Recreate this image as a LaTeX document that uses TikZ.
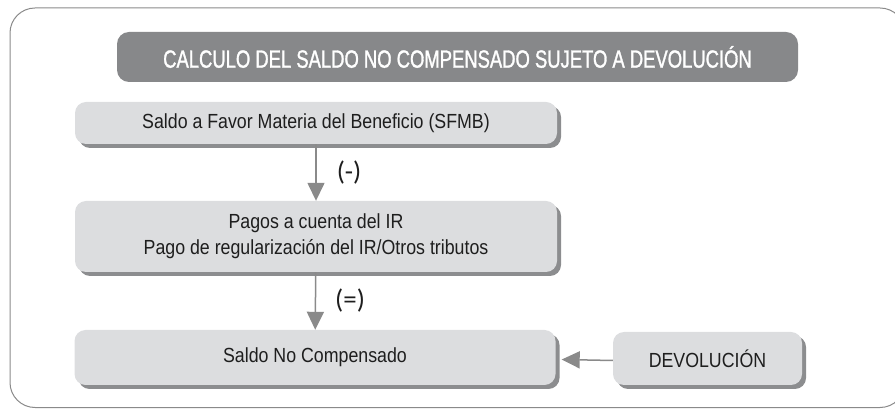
\documentclass[tikz,border=0pt]{standalone}
\usepackage{fontspec}
\setmainfont{Liberation Sans}[FakeStretch=0.87]
\newfontfamily\headfont{Liberation Sans}[FakeStretch=0.74,FakeBold=1.2]
\newfontfamily\signfont{Carlito}
\usetikzlibrary{arrows.meta}
\usetikzlibrary{shadows}
\definecolor{boxgray}{HTML}{DCDDDF}
\definecolor{titlegray}{HTML}{87888A}
\definecolor{shadegray}{HTML}{8C8D8F}
\definecolor{linegray}{HTML}{8A8A8A}
\definecolor{textdark}{HTML}{1E1E1E}

\begin{document}
\begin{tikzpicture}[>={Triangle[width=17bp,length=18bp]},line join=bevel,
  box/.style={rounded corners=11bp,fill=boxgray,draw=none,text=textdark,align=center,
    inner sep=0pt,font=\fontsize{20.5}{26}\selectfont,
    general shadow={fill=shadegray,shadow xshift=4bp,shadow yshift=-4bp}},
  flow/.style={draw=linegray,line width=1.5bp,->,color=linegray},
  sign/.style={text=textdark,font=\signfont\fontsize{27}{30}\selectfont,inner sep=0pt},
]
%%
\useasboundingbox (0bp,0bp) rectangle (895bp,409bp);
\draw [linegray,line width=1bp,rounded corners=25bp] (10bp,1.5bp) rectangle (905bp,401bp);
%
\node (node_0) at (457.5bp,352bp) [rounded corners=12bp,fill=titlegray,text=white,inner sep=0pt,
  minimum width=681bp,minimum height=50bp,font=\headfont\fontsize{25}{30}\selectfont]
  {CALCULO DEL SALDO NO COMPENSADO SUJETO A DEVOLUCIÓN};
  \node (node_1) at (316bp,286bp) [box,minimum width=482bp,minimum height=42bp]
  {Saldo a Favor Materia del Beneficio (SFMB)};
  \node (node_2) at (316bp,172.5bp) [box,minimum width=482bp,minimum height=71bp]
  {Pagos a cuenta del IR\\Pago de regularización del IR/Otros tributos};
  \node (node_3) at (315bp,51.5bp) [box,minimum width=481bp,minimum height=55bp]
  {Saldo No Compensado};
  \node (node_4) at (707.5bp,50.5bp) [box,minimum width=189bp,minimum height=53bp]
  {DEVOLUCIÓN};
  \draw [flow] (node_1) -- (node_2) node [midway,right=20bp,sign] (sign_0) {(-)};
  \draw [flow] (node_2) -- (node_3) node [midway,right=19bp,sign] (sign_1) {(=)};
  \draw [flow] ([yshift=-2bp]node_4.west) -- ([xshift=6bp,yshift=-2bp]node_3.east);
%
\end{tikzpicture}
\end{document}
